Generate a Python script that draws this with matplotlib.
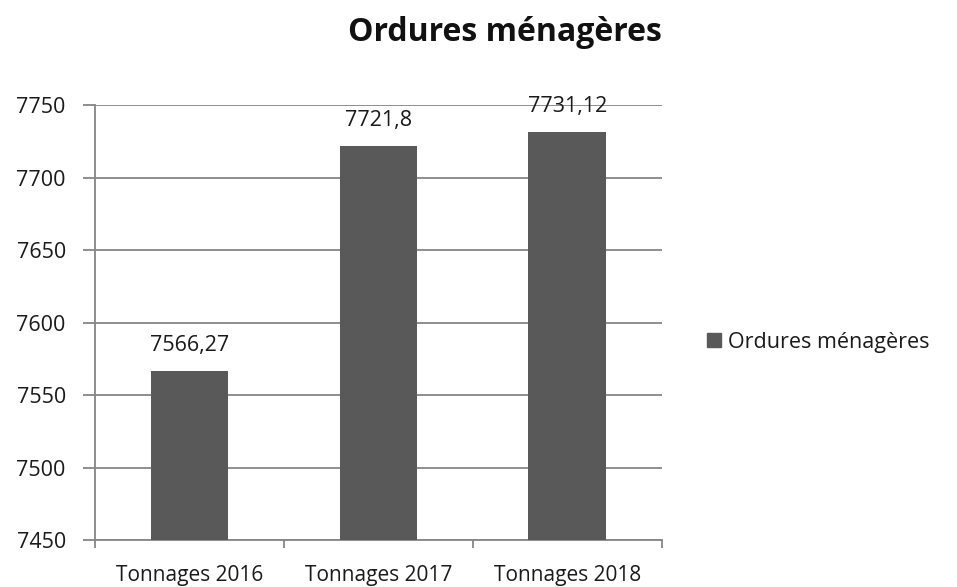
import matplotlib.pyplot as plt
from matplotlib.patches import Patch
import numpy as np

categories = ["Tonnages 2016", "Tonnages 2017", "Tonnages 2018"]
values = [7566.27, 7721.8, 7731.12]
labels = ["7566,27", "7721,8", "7731,12"]
series_name = "Ordures ménagères"
yticks = [7450, 7500, 7550, 7600, 7650, 7700, 7750]

plt.rcParams['font.family'] = ['Open Sans', 'DejaVu Sans']

fig = plt.figure(figsize=(9.57, 5.87), dpi=100)
ax = fig.add_axes([0.0993, 0.080, 0.592, 0.741])

bar_color = "#595959"
grid_color = "#868686"
text_color = "#1a1a1a"
x = np.arange(len(categories))
ax.bar(x, values, width=0.41, color=bar_color, zorder=3)

# data labels above bars
for xi, v, lab in zip(x, values, labels):
    ax.annotate(lab, (xi, v), xytext=(0, 11), textcoords="offset points",
                ha="center", va="bottom", fontsize=15.5, color=text_color)

ax.set_xlim(-0.5, len(categories) - 0.5)
ax.set_ylim(7450, 7750)
ax.set_yticks(yticks)
ax.set_yticklabels([str(t) for t in yticks], fontsize=15.5, color=text_color)
ax.yaxis.grid(True, color=grid_color, linewidth=1.3, zorder=0)
ax.tick_params(axis="y", length=9, width=1.3, color=grid_color, pad=12)

ax.set_xticks(x)
ax.set_xticklabels(categories, fontsize=15, color=text_color)
ax.set_xticks(np.arange(len(categories) + 1) - 0.5, minor=True)
ax.tick_params(axis="x", which="major", length=0, pad=18)
ax.tick_params(axis="x", which="minor", length=6, width=1.3, color=grid_color)

for s in ["top", "right"]:
    ax.spines[s].set_visible(False)
for s in ["left", "bottom"]:
    ax.spines[s].set_color(grid_color)
    ax.spines[s].set_linewidth(1.3)

fig.text(0.528, 0.944, series_name, ha="center", va="center",
         fontsize=23, fontweight="bold", color="#111111")

fig.legend(handles=[Patch(color=bar_color, label=series_name)],
           loc="center left", bbox_to_anchor=(0.719, 0.417), frameon=False,
           fontsize=15.5, handlelength=0.65, handleheight=0.65, handletextpad=0.3,
           labelcolor=text_color)

fig.savefig("out.png", dpi=100)
